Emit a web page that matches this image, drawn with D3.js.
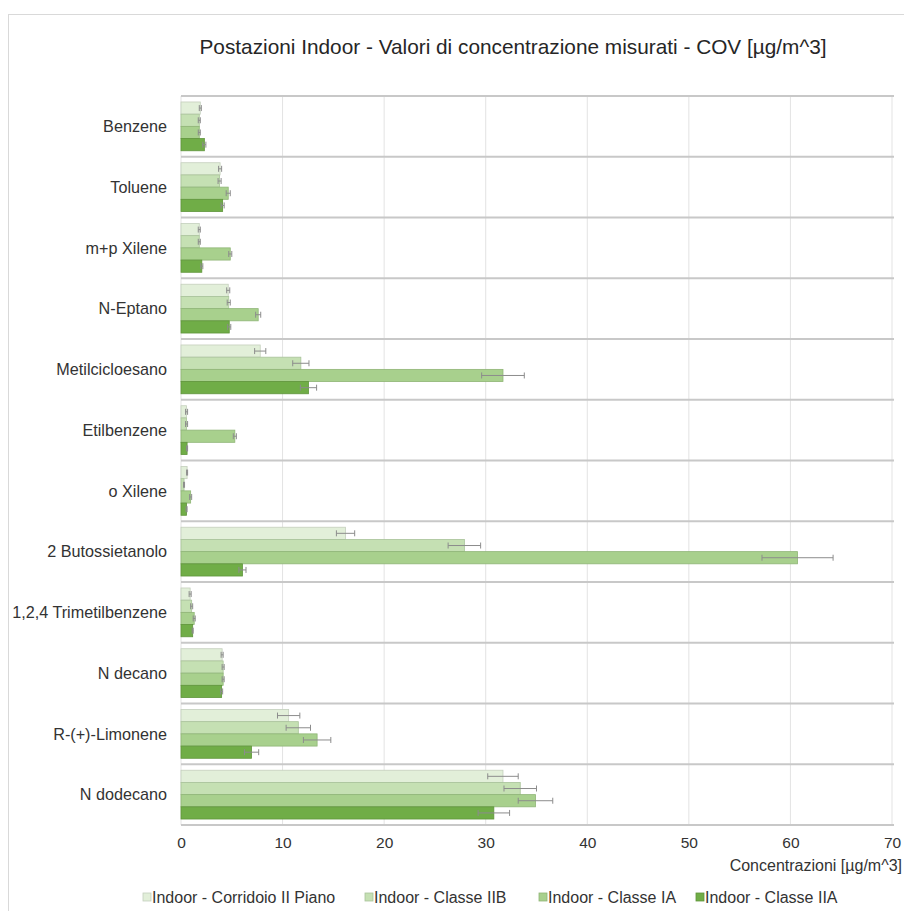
<!DOCTYPE html>
<html>
<head>
<meta charset="utf-8">
<script src="https://cdn.jsdelivr.net/npm/d3@7"></script>
<style>
  html, body { margin: 0; padding: 0; background: #fff; }
  svg { display: block; font-family: "Liberation Sans", Arial, Helvetica, sans-serif; }
</style>
</head>
<body>
<svg id="chart" width="904" height="911"></svg>
<script>
// Compounds (rows, top to bottom)
const categories = [
  "Benzene", "Toluene", "m+p Xilene", "N-Eptano", "Metilcicloesano",
  "Etilbenzene", "o Xilene", "2 Butossietanolo", "1,2,4 Trimetilbenzene",
  "N decano", "R-(+)-Limonene", "N dodecano"
];

// Measuring stations
const seriesNames = [
  "Indoor - Corridoio II Piano",
  "Indoor - Classe IIB",
  "Indoor - Classe IA",
  "Indoor - Classe IIA"
];

// Mean concentrations [µg/m^3]
const corridoio = [1.9, 3.85, 1.8, 4.65, 7.8, 0.55, 0.6, 16.2, 0.9, 4.05, 10.6, 31.7];
const classeIIB = [1.8, 3.8, 1.8, 4.7, 11.8, 0.55, 0.3, 27.9, 1.05, 4.15, 11.55, 33.4];
const classeIA  = [1.8, 4.65, 4.85, 7.6, 31.7, 5.3, 0.95, 60.7, 1.3, 4.15, 13.4, 34.9];
const classeIIA = [2.3, 4.1, 2.05, 4.75, 12.55, 0.6, 0.55, 6.05, 1.15, 4.0, 6.95, 30.8];

// Uncertainty (± half-width)
const errCorridoio = [0.1, 0.15, 0.1, 0.15, 0.55, 0.1, 0.05, 0.9, 0.1, 0.1, 1.1, 1.5];
const errIIB       = [0.1, 0.15, 0.1, 0.15, 0.8, 0.1, 0.05, 1.6, 0.1, 0.1, 1.2, 1.6];
const errIA        = [0.1, 0.2, 0.15, 0.25, 2.1, 0.15, 0.1, 3.5, 0.1, 0.1, 1.35, 1.7];
const errIIA       = [0.15, 0.15, 0.1, 0.15, 0.8, 0.05, 0.05, 0.35, 0.05, 0.1, 0.7, 1.55];

const xTicks = [0, 10, 20, 30, 40, 50, 60, 70];

const seriesValues = [corridoio, classeIIB, classeIA, classeIIA];
const seriesErrors = [errCorridoio, errIIB, errIA, errIIA];
const colors = ["#e2efd9", "#c5e0b3", "#a8d08d", "#70ad47"];
const strokes = ["#c4cfbd", "#a9c39a", "#8fb576", "#5f953b"];

const svg = d3.select("#chart");

// Outer chart frame
svg.append("rect")
  .attr("x", 8.5).attr("y", 14.5)
  .attr("width", 920).attr("height", 920)
  .attr("fill", "#fff").attr("stroke", "#d9d9d9");

const plot = { left: 181, right: 892, top: 96, bottom: 825 };

const x = d3.scaleLinear().domain([0, 70]).range([plot.left, plot.right]);
const y = d3.scaleBand().domain(categories).range([plot.top, plot.bottom]).paddingInner(0).paddingOuter(0);
const ySeries = d3.scaleBand().domain(d3.range(seriesNames.length))
  .range([0, y.bandwidth()]).paddingInner(0).paddingOuter(0.49);

// Title
svg.append("text")
  .attr("x", 513).attr("y", 54)
  .attr("text-anchor", "middle")
  .attr("font-size", 20.8)
  .attr("fill", "#262626")
  .text("Postazioni Indoor - Valori di concentrazione misurati - COV [µg/m^3]");

// Vertical gridlines
svg.append("g")
  .selectAll("line")
  .data(xTicks)
  .join("line")
  .attr("x1", d => x(d)).attr("x2", d => x(d))
  .attr("y1", plot.top).attr("y2", plot.bottom)
  .attr("stroke", "#e3e3e3").attr("stroke-width", 1);

// Row separators
const bounds = categories.map(c => y(c)).concat([plot.bottom]);
svg.append("g")
  .selectAll("line")
  .data(bounds)
  .join("line")
  .attr("x1", plot.left).attr("x2", plot.right + 2)
  .attr("y1", d => d).attr("y2", d => d)
  .attr("stroke", "#c8c8c8").attr("stroke-width", 2);

// Bars
const rows = [];
categories.forEach((c, i) => {
  seriesValues.forEach((vals, s) => {
    rows.push({ cat: c, s, v: vals[i], e: seriesErrors[s][i] });
  });
});

const barG = svg.append("g");
barG.selectAll("rect")
  .data(rows)
  .join("rect")
  .attr("x", x(0))
  .attr("y", d => y(d.cat) + ySeries(d.s))
  .attr("width", d => x(d.v) - x(0))
  .attr("height", ySeries.bandwidth())
  .attr("fill", d => colors[d.s])
  .attr("stroke", d => strokes[d.s])
  .attr("stroke-width", 0.8);

// Error bars
const errG = svg.append("g").attr("stroke", "#8c8c8c").attr("stroke-width", 1);
rows.forEach(d => {
  const cy = y(d.cat) + ySeries(d.s) + ySeries.bandwidth() / 2;
  const x1 = x(Math.max(0, d.v - d.e)), x2 = x(d.v + d.e);
  errG.append("line").attr("x1", x1).attr("x2", x2).attr("y1", cy).attr("y2", cy);
  errG.append("line").attr("x1", x1).attr("x2", x1).attr("y1", cy - 3).attr("y2", cy + 3);
  errG.append("line").attr("x1", x2).attr("x2", x2).attr("y1", cy - 3).attr("y2", cy + 3);
});

// Category labels
svg.append("g")
  .selectAll("text")
  .data(categories)
  .join("text")
  .attr("x", 167)
  .attr("y", d => y(d) + y.bandwidth() / 2)
  .attr("dy", "0.35em")
  .attr("text-anchor", "end")
  .attr("font-size", 16.2)
  .attr("fill", "#333")
  .text(d => d);

// X axis tick labels
const xAxis = d3.axisBottom(x).tickValues(xTicks).tickSize(0).tickPadding(12);
const axG = svg.append("g").attr("transform", `translate(0,${plot.bottom})`).call(xAxis);
axG.select(".domain").remove();
axG.selectAll("text")
  .attr("font-size", 15.5)
  .attr("fill", "#333")
  .attr("font-family", "'Liberation Sans', Arial, sans-serif");

// Axis title
svg.append("text")
  .attr("x", 902).attr("y", 871)
  .attr("text-anchor", "end")
  .attr("font-size", 16)
  .attr("fill", "#333")
  .text("Concentrazioni  [µg/m^3]");

// Legend
const legendX = [143, 365, 539, 696];
const lg = svg.append("g");
seriesNames.forEach((name, s) => {
  const g = lg.append("g").attr("transform", `translate(${legendX[s]},897)`);
  g.append("rect")
    .attr("x", 0).attr("y", -4).attr("width", 8).attr("height", 8)
    .attr("fill", colors[s]).attr("stroke", strokes[s]).attr("stroke-width", 0.8);
  g.append("text")
    .attr("x", 9).attr("y", 0).attr("dy", "0.35em")
    .attr("font-size", 16)
    .attr("fill", "#333")
    .text(name);
});
</script>
</body>
</html>
